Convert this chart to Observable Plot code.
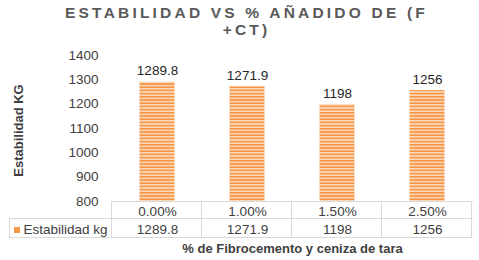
<!DOCTYPE html>
<html>
<head>
<meta charset="utf-8">
<script src="https://cdn.jsdelivr.net/npm/d3@7"></script>
<script src="https://cdn.jsdelivr.net/npm/@observablehq/plot@0.6"></script>
<style>
  html, body { margin: 0; padding: 0; background: #fff; }
  svg { font-family: "Liberation Sans", Arial, sans-serif; }
</style>
</head>
<body>
<div id="chart"></div>
<script>
const categories = ["0.00%", "1.00%", "1.50%", "2.50%"];
const values = [1289.8, 1271.9, 1198, 1256];
const valueLabels = ["1289.8", "1271.9", "1198", "1256"];
const yTicks = [800, 900, 1000, 1100, 1200, 1300, 1400];
const seriesName = "Estabilidad kg";
const titleText = "ESTABILIDAD VS % AÑADIDO DE (F\n+CT)";
const yTitle = "Estabilidad KG";
const xTitle = "% de Fibrocemento y ceniza de tara";

const data = categories.map((c, i) => ({cat: c, value: values[i], label: valueLabels[i]}));

const W = 479, H = 260;
const ml = 111, mr = 6, mt = 55, mb = 59;

const chart = Plot.plot({
  width: W, height: H,
  marginLeft: ml, marginRight: mr, marginTop: mt, marginBottom: mb,
  style: {fontFamily: "'Liberation Sans', Arial, sans-serif", fontSize: "13.5px", color: "#404040", background: "#fff"},
  x: {domain: categories, padding: 0, axis: null},
  y: {domain: [800, 1400], ticks: yTicks, tickSize: 0, tickPadding: 13, label: null, tickFormat: d => String(d)},
  marks: [
    Plot.barY(data, {x: "cat", y1: 800, y2: "value", fill: "url(#stripes)", insetLeft: 27.5, insetRight: 27.5}),
    Plot.text(data, {x: "cat", y: "value", text: "label", lineAnchor: "bottom", dy: -7, fill: "#262626", fontSize: 13.5}),
    // table row 1: categories
    Plot.text(data, {x: "cat", text: "cat", frameAnchor: "bottom", lineAnchor: "middle", dy: 10, fill: "#404040", fontSize: 13.5}),
    // table row 2: values
    Plot.text(data, {x: "cat", text: "label", frameAnchor: "bottom", lineAnchor: "middle", dy: 28, fill: "#404040", fontSize: 13.5}),
    // legend label in table
    Plot.text([seriesName], {frameAnchor: "bottom-left", textAnchor: "start", lineAnchor: "middle", dx: -88, dy: 28, fill: "#404040", fontSize: 13.5}),
    Plot.dot([seriesName], {frameAnchor: "bottom-left", dx: -94.5, dy: 28.5, symbol: "square", r: 3.4, fill: "#F79646", stroke: "none"}),
    // x title
    Plot.text([xTitle], {frameAnchor: "bottom", lineAnchor: "middle", dy: 47, fontWeight: "bold", fill: "#404040", fontSize: 13}),
    // y title
    Plot.text([yTitle], {frameAnchor: "left", textAnchor: "middle", lineAnchor: "middle", rotate: -90, dx: -93, dy: 2, fontWeight: "bold", fill: "#404040", fontSize: 13}),
    // chart title
    Plot.text([titleText], {frameAnchor: "top", lineAnchor: "top", dx: -46, dy: -50, lineHeight: 1.1, fontWeight: "bold", fill: "#595959", fontSize: 15.5})
  ]
});

// pattern definition for striped bars
const svg = d3.select(chart);
const defs = svg.insert("defs", ":first-child");
const pat = defs.append("pattern").attr("id", "stripes").attr("patternUnits", "userSpaceOnUse")
  .attr("width", 6).attr("height", 3.2);
pat.append("rect").attr("width", 6).attr("height", 3.2).attr("fill", "#FBD7B8");
pat.append("rect").attr("width", 6).attr("height", 1.6).attr("fill", "#F79646");

// letter spacing on title
svg.selectAll("text").filter(function() { return this.textContent.indexOf("ESTABILIDAD VS") === 0; })
  .style("letter-spacing", "3.2px");

// table grid lines using the Plot x scale
const xs = chart.scale("x");
const x0 = xs.range[0], x1 = xs.range[1], step = xs.step;
const yBase = Math.round((mt + (H - mt - mb))) + 0.5; // y position of 800
const rowH = [yBase, yBase + 17, yBase + 36];
const grid = svg.append("g").attr("stroke", "#D9D9D9").attr("stroke-width", 1).attr("fill", "none");
grid.append("line").attr("x1", x0).attr("x2", x1).attr("y1", rowH[0]).attr("y2", rowH[0]);
grid.append("line").attr("x1", 9).attr("x2", x1).attr("y1", rowH[1]).attr("y2", rowH[1]);
grid.append("line").attr("x1", 9).attr("x2", x1).attr("y1", rowH[2]).attr("y2", rowH[2]);
grid.append("line").attr("x1", 9.5).attr("x2", 9.5).attr("y1", rowH[1]).attr("y2", rowH[2]);
for (let i = 0; i <= categories.length; i++) {
  const xv = Math.round(x0 + i * step) + 0.5;
  grid.append("line").attr("x1", xv).attr("x2", xv).attr("y1", rowH[0]).attr("y2", rowH[2]);
}

document.getElementById("chart").appendChild(chart);
</script>
</body>
</html>
